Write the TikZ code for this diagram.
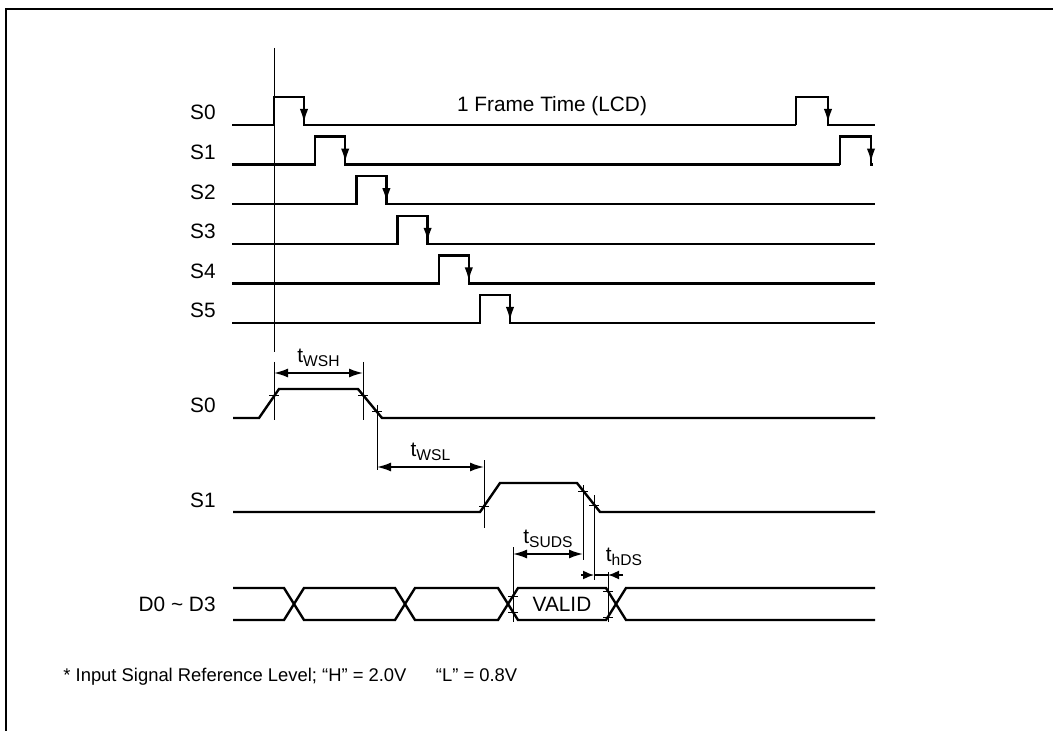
\documentclass[tikz,border=0pt]{standalone}
\usepackage{fontspec}
\setmainfont{Liberation Sans}
\usetikzlibrary{arrows.meta}
\newcommand{\tsub}[1]{t\raisebox{-0.35ex}{\fontsize{7.8}{9}\selectfont #1}}

\begin{document}
\begin{tikzpicture}[x=0.5pt, y=-0.5pt,
    sig/.style={line width=1.2pt},
    thn/.style={line width=0.5pt},
    arr/.style={-{Latex[length=7pt,width=4.2pt]}},
    dimarr/.style={line width=0.8pt, {Latex[length=7pt,width=4.5pt]}-{Latex[length=7pt,width=4.5pt]}},
    lbl/.style={font=\fontsize{10.4}{12}\selectfont, inner sep=0pt},
    crs/.pic={\draw[line width=0.5pt] (-5,0) -- (5,0) (0,-5) -- (0,5);}]
    \useasboundingbox (0,0) rectangle (1053,731);
    \draw [line width=1.3pt] (6,731) -- (6,9) -- (1053,9);
    \pgfmathsetmacro{\dx}{41.2}
    \pgfmathsetmacro{\dy}{39.6}
    \draw [thn] (274,48) -- (274,352);
    \foreach \i/\xe in {0/796, 1/840, 2/875, 3/875, 4/875, 5/875} {
        \pgfmathsetmacro{\yb}{125+\dy*\i}
        \pgfmathsetmacro{\yh}{\yb-28}
        \pgfmathsetmacro{\xr}{274+\dx*\i}
        \pgfmathsetmacro{\xf}{\xr+30}
        \node [lbl, anchor=base east] (s\i) at (216,\yb-5) {S\i};
        \draw [sig] (232,\yb) -- (\xr,\yb) |- (\xf,\yh) -- (\xf,\yb) -- (\xe,\yb);
        \draw [sig, arr] (\xf,\yh) -- (\xf,\yb-2);
    }
    \draw [sig] (796,125) |- (828,97) -- (828,125) -- (875,125);
    \draw [sig, arr] (828,97) -- (828,123);
    \draw [sig] (840,164.6) |- (871,136.6) -- (871,164.6) -- (873,164.6);
    \draw [sig, arr] (871,136.6) -- (871,162.6);
    \node [lbl] (frame) at (552,106) {1 Frame Time (LCD)};
    \node [lbl, anchor=base east] (ls0) at (216,413) {S0};
    \draw [sig] (233,418) -- (259,418) -- (279,389) -- (358,389) -- (382,418) -- (875,418);
    \node [lbl, anchor=base east] (ls1) at (216,507) {S1};
    \draw [sig] (233,512) -- (480,512) -- (500,483) -- (577,483) -- (600,512) -- (875,512);
    \node [lbl, anchor=base east] (bus) at (216,611) {D0 \textasciitilde{} D3};
    \draw [sig] (233,588) -- (284,588) -- (304,620) -- (395,620) -- (415,588) -- (498,588) -- (518,620)
        -- (606,620) -- (626,588) -- (875,588);
    \draw [sig] (233,620) -- (284,620) -- (304,588) -- (395,588) -- (415,620) -- (498,620) -- (518,588)
        -- (606,588) -- (626,620) -- (875,620);
    \node [lbl] (valid) at (562,604) {VALID};
    \draw [thn] (274,362) -- (274,420) (363,362) -- (363,420) (377,405) -- (377,470);
    \draw [thn] (484,460) -- (484,528) (583,485) -- (583,560) (594,495) -- (594,580);
    \draw [thn] (513,547) -- (513,622) (608,572) -- (608,622);
    \pic at (274,396) {crs};
    \pic at (363,396) {crs};
    \pic at (377,412) {crs};
    \pic at (484,506) {crs};
    \pic at (583,491) {crs};
    \pic at (594,505) {crs};
    \pic at (513,596) {crs};
    \pic at (513,612) {crs};
    \pic at (608,591) {crs};
    \pic at (608,617) {crs};
    \coordinate (wsh1) at (274,373);
    \coordinate (wsh2) at (363,373);
    \coordinate (wsl1) at (377,467);
    \coordinate (wsl2) at (484,467);
    \coordinate (suds1) at (513,554);
    \coordinate (suds2) at (583,554);
    \coordinate (hds1) at (594,575);
    \coordinate (hds2) at (608,575);
    \draw [dimarr] (wsh1) -- (wsh2) node [lbl, midway, above=3pt] (twsh) {\tsub{WSH}};
    \draw [dimarr] (wsl1) -- (wsl2) node [lbl, midway, above=3pt] (twsl) {\tsub{WSL}};
    \draw [dimarr] (suds1) -- (suds2) node [lbl, midway, above=3pt] (tsuds) {\tsub{SUDS}};
    \draw [line width=0.8pt] (hds1) -- (hds2);
    \draw [line width=0.8pt, -{Latex[length=5.5pt,width=4.5pt]}] (hds1) ++(-13,0) -- (hds1);
    \draw [line width=0.8pt, -{Latex[length=5.5pt,width=4.5pt]}] (hds2) ++(15,0) -- (hds2);
    \node [lbl] (thds) at (624,557) {\tsub{hDS}};
    \node [font=\fontsize{9.2}{11}\selectfont, inner sep=0pt, anchor=base west] (note) at (63,681)
        {* Input Signal Reference Level; “H” = 2.0V\hspace{1.6em}“L” = 0.8V};
\end{tikzpicture}
\end{document}
